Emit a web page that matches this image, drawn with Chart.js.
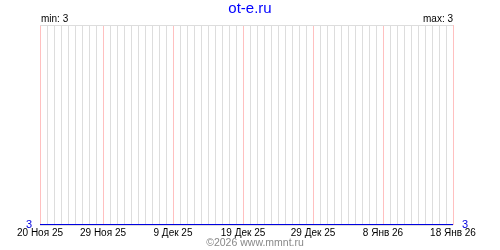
<!DOCTYPE html>
<html>
<head>
<meta charset="utf-8">
<script src="https://cdn.jsdelivr.net/npm/chart.js@4"></script>
<style>
  html, body { margin: 0; padding: 0; background: #fff; }
  #wrap { width: 500px; height: 250px; }
</style>
</head>
<body>
<div id="wrap"><canvas id="chart" width="500" height="250"></canvas></div>
<script>
// Data
const monthNames = ['Янв', 'Фев', 'Мар', 'Апр', 'Май', 'Июн', 'Июл', 'Авг', 'Сен', 'Окт', 'Ноя', 'Дек'];
const startDay = new Date(2025, 10, 20);
const dayCount = 60;
const days = [];
for (let i = 0; i < dayCount; i++) {
  const d = new Date(startDay.getFullYear(), startDay.getMonth(), startDay.getDate() + i);
  days.push(d.getDate() + ' ' + monthNames[d.getMonth()] + ' ' + String(d.getFullYear()).slice(2));
}
const values = [
  3, 3, 3, 3, 3, 3, 3, 3, 3, 3,
  3, 3, 3, 3, 3, 3, 3, 3, 3, 3,
  3, 3, 3, 3, 3, 3, 3, 3, 3, 3,
  3, 3, 3, 3, 3, 3, 3, 3, 3, 3,
  3, 3, 3, 3, 3, 3, 3, 3, 3, 3,
  3, 3, 3, 3, 3, 3, 3, 3, 3, 3
];
const tickLabels = ['20 Ноя 25', '29 Ноя 25', '9 Дек 25', '19 Дек 25', '29 Дек 25', '8 Янв 26', '18 Янв 26'];
const minValue = 3;
const maxValue = 3;

const FONT = 'Liberation Sans, Arial, sans-serif';

// min / max / title / footer texts
const textPlugin = {
  id: 'texts',
  afterDraw(chart) {
    const ctx = chart.ctx;
    const area = chart.chartArea;
    ctx.save();
    ctx.textBaseline = 'alphabetic';
    ctx.font = '10px ' + FONT;
    ctx.fillStyle = '#000';
    ctx.textAlign = 'left';
    ctx.fillText('min: ' + minValue, area.left + 1, area.top - 3);
    ctx.textAlign = 'right';
    ctx.fillText('max: ' + maxValue, area.right, area.top - 3);

    ctx.textAlign = 'center';
    ctx.font = '15px ' + FONT;
    ctx.fillStyle = '#0000ff';
    ctx.fillText('ot-e.ru', 250, 13);

    ctx.font = '10.5px ' + FONT;
    ctx.fillStyle = '#888';
    ctx.fillText('©2026 www.mmnt.ru', 255, 246);
    ctx.restore();
  }
};

const isTick = (i) => tickLabels.includes(days[i]);

new Chart(document.getElementById('chart'), {
  type: 'line',
  data: {
    labels: days,
    datasets: [{
      data: values,
      borderColor: '#0000e0',
      borderWidth: 2,
      pointRadius: 0,
      tension: 0,
      yAxisID: 'y'
    }]
  },
  options: {
    responsive: false,
    animation: false,
    layout: { padding: { top: 25, bottom: 0, left: 0, right: 0 } },
    plugins: {
      legend: { display: false },
      tooltip: { enabled: false }
    },
    scales: {
      x: {
        offset: false,
        border: { display: false },
        grid: {
          drawTicks: false,
          color: (c) => isTick(c.index) ? '#ffc0c0' : '#dddddd',
          lineWidth: 1
        },
        ticks: {
          autoSkip: false,
          maxRotation: 0,
          padding: 2,
          color: '#000',
          font: { family: FONT, size: 10 },
          callback: (v, i) => isTick(i) ? days[i] : ''
        },
        afterFit: (s) => { s.height = 25; }
      },
      y: {
        position: 'left',
        min: 3,
        max: 4,
        border: { display: false },
        grid: { drawTicks: false, color: '#dddddd' },
        ticks: {
          stepSize: 1,
          padding: 8,
          color: '#0000e0',
          font: { family: FONT, size: 11 },
          callback: (v) => v === minValue ? String(v) : ''
        },
        afterFit: (s) => { s.width = 40; }
      },
      y2: {
        position: 'right',
        min: 3,
        max: 4,
        border: { display: false },
        grid: { display: false },
        ticks: {
          stepSize: 1,
          padding: 1,
          color: '#0000e0',
          font: { family: FONT, size: 11 },
          callback: (v) => v === maxValue ? String(v) : ''
        },
        afterFit: (s) => { s.width = 47; }
      }
    }
  },
  plugins: [textPlugin]
});
</script>
</body>
</html>
